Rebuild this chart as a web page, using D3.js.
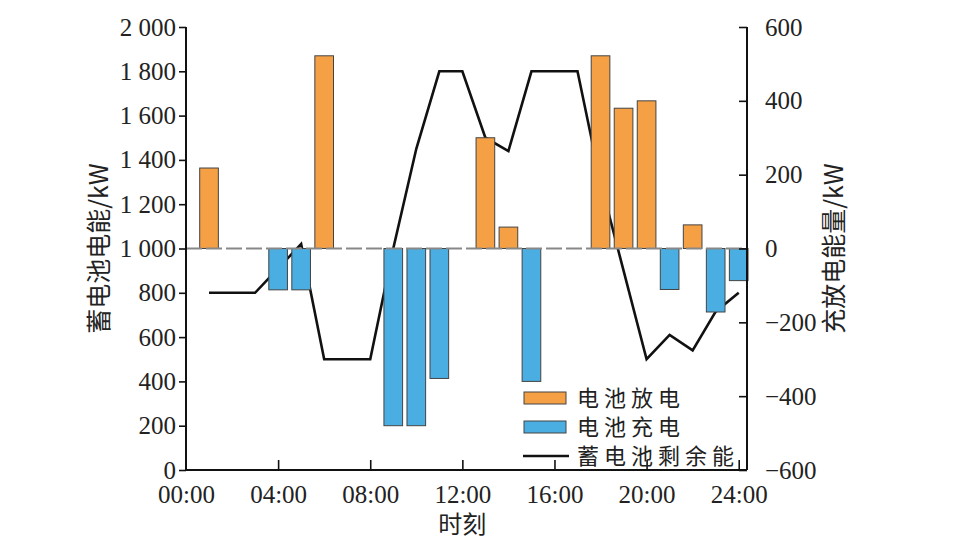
<!DOCTYPE html>
<html>
<head>
<meta charset="utf-8">
<script src="https://cdn.jsdelivr.net/npm/d3@7"></script>
<style>
  body { margin: 0; background: #fff; }
  svg text { font-family: "Liberation Serif", "Noto Sans CJK SC", serif; fill: #222; }
  .cjk { font-family: "Noto Sans CJK SC", sans-serif; }
</style>
</head>
<body>
<div id="chart"></div>
<script>
// hourly data, bars sit at hour 1..24
const hours = d3.range(1, 25);
// charge / discharge power (kW), right axis; + = discharge, - = charge
const power = [218, 0, 0, -112, -112, 522, 0, 0, -480, -480, -352, 0,
               300, 58, -360, 0, 0, 522, 380, 400, -111, 64, -172, -87];
// remaining battery energy, left axis
const energy = [800, 800, 800, 910, 1020, 500, 500, 500, 1000, 1450, 1800, 1800,
                1500, 1440, 1800, 1800, 1800, 1300, 900, 500, 610, 540, 715, 800];
const leftTicks = [0, 200, 400, 600, 800, 1000, 1200, 1400, 1600, 1800, 2000];
const rightTicks = [-600, -400, -200, 0, 200, 400, 600];
const xTicks = [0, 4, 8, 12, 16, 20, 24];
const legendItems = ["电池放电", "电池充电", "蓄电池剩余能"];

const width = 964, height = 550;
const margin = { top: 27, right: 217, bottom: 80, left: 186 };

const svg = d3.select('#chart').append('svg')
    .attr('width', width)
    .attr('height', height);

const x = d3.scaleLinear().domain([0, 24.36]).range([margin.left, width - margin.right]);
const yL = d3.scaleLinear().domain([0, 2000]).range([height - margin.bottom, margin.top]);
const yR = d3.scaleLinear().domain([-600, 600]).range([height - margin.bottom, margin.top]);

const barW = x(0.81) - x(0);
const orange = '#F5A044', blue = '#4AAEE2';

// remaining energy line (under the bars)
const line = d3.line().x((d, i) => x(hours[i])).y(d => yL(d));
svg.append('path')
    .datum(energy)
    .attr('d', line)
    .attr('fill', 'none')
    .attr('stroke', '#111')
    .attr('stroke-width', 2.6)
    .attr('stroke-linejoin', 'miter');

// bars
svg.append('g')
    .selectAll('rect')
    .data(hours.map((h, i) => ({ h, v: power[i] })).filter(d => d.v !== 0))
    .enter()
    .append('rect')
    .attr('x', d => x(d.h) - barW / 2)
    .attr('width', barW)
    .attr('y', d => yR(Math.max(0, d.v)))
    .attr('height', d => Math.abs(yR(d.v) - yR(0)))
    .attr('fill', d => d.v > 0 ? orange : blue)
    .attr('stroke', '#444')
    .attr('stroke-width', 1);

// dashed zero line
svg.append('line')
    .attr('x1', x(0)).attr('x2', x(24.36))
    .attr('y1', yR(0)).attr('y2', yR(0))
    .attr('stroke', '#888')
    .attr('stroke-width', 2)
    .attr('stroke-dasharray', '16,4');

// axes
const fmt = d3.formatLocale({ decimal: '.', thousands: ' ', grouping: [3], currency: ['', ''] }).format(',');

const gL = svg.append('g')
    .attr('transform', `translate(${margin.left},0)`)
    .call(d3.axisLeft(yL).tickValues(leftTicks).tickFormat(fmt).tickSize(7).tickPadding(3));

const gR = svg.append('g')
    .attr('transform', `translate(${width - margin.right},0)`)
    .call(d3.axisRight(yR).tickValues(rightTicks).tickSize(-8).tickPadding(18));

const gX = svg.append('g')
    .attr('transform', `translate(0,${height - margin.bottom})`)
    .call(d3.axisBottom(x).tickValues(xTicks)
        .tickFormat(d => String(d).padStart(2, '0') + ':00')
        .tickSize(-10).tickPadding(15));

[gL, gR, gX].forEach(g => {
    g.select('.domain').attr('stroke', '#111').attr('stroke-width', 2);
    g.selectAll('.tick line').attr('stroke', '#111').attr('stroke-width', 1.6);
    g.selectAll('.tick text')
        .attr('font-family', '"Liberation Serif", serif')
        .attr('font-size', 25)
        .attr('fill', '#222');
});
gX.selectAll('.tick').filter(d => d === 0).select('line').remove();
gX.select('.domain').attr('d', `M${x(0)},0H${x(24.36)}`);
gL.select('.domain').attr('d', `M0,${yL(2000)}V${yL(0)}`);
gR.select('.domain').attr('d', `M0,${yR(600)}V${yR(-600)}`);

// axis titles
svg.append('text')
    .attr('class', 'cjk')
    .attr('transform', `translate(108,${yL(1000)}) rotate(-90)`)
    .attr('text-anchor', 'middle')
    .attr('font-size', 25)
    .text('蓄电池电能/kW');

svg.append('text')
    .attr('class', 'cjk')
    .attr('transform', `translate(843,${yR(0)}) rotate(-90)`)
    .attr('text-anchor', 'middle')
    .attr('font-size', 25)
    .text('充放电能量/kW');

svg.append('text')
    .attr('class', 'cjk')
    .attr('x', x(12)).attr('y', 533)
    .attr('text-anchor', 'middle')
    .attr('font-size', 24)
    .text('时刻');

// legend
const lg = svg.append('g').attr('transform', 'translate(524,398)');
legendItems.forEach((name, i) => {
    const gy = i * 29;
    if (i < 2) {
        lg.append('rect')
            .attr('x', 0).attr('y', gy - 6)
            .attr('width', 42).attr('height', 12)
            .attr('fill', i === 0 ? orange : blue)
            .attr('stroke', '#444').attr('stroke-width', 1);
    } else {
        lg.append('line')
            .attr('x1', -1).attr('x2', 45)
            .attr('y1', gy).attr('y2', gy)
            .attr('stroke', '#111').attr('stroke-width', 2.6);
    }
    lg.append('text')
        .attr('class', 'cjk')
        .attr('x', 53).attr('y', gy)
        .attr('dy', '0.36em')
        .attr('font-size', 22)
        .attr('letter-spacing', 5)
        .text(name);
});
</script>
</body>
</html>
